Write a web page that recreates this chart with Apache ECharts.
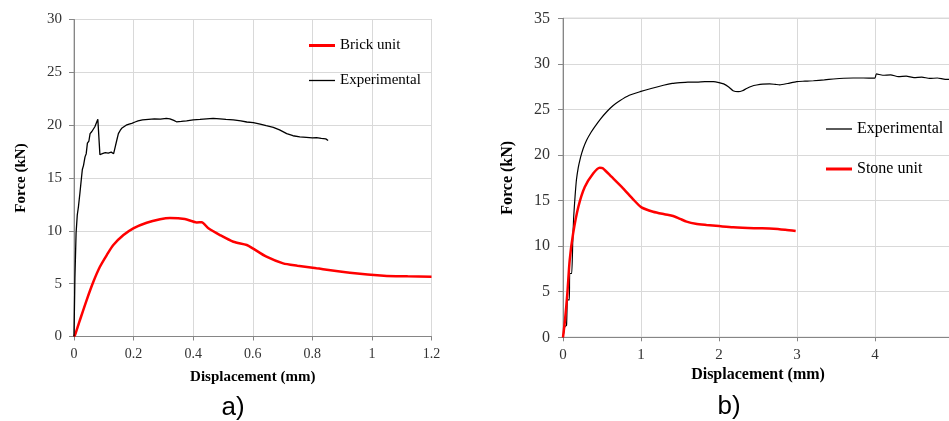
<!DOCTYPE html>
<html><head><meta charset="utf-8">
<script src="https://cdn.jsdelivr.net/npm/echarts@6/dist/echarts.min.js"></script>
<style>html,body{margin:0;padding:0;background:#fff}#c{width:949px;height:421px}</style>
</head><body><div id="c"></div>
<script>
// Chart a) Brick unit
const brickDisp = [0,0.0034,0.02,0.0425,0.065,0.087,0.11,0.132,0.166,0.199,0.244,0.289,0.322,0.372,0.412,0.4285,0.451,0.49,0.535,0.58,0.6,0.646,0.702,0.75,0.814,0.926,1.04,1.12,1.2];
const brickForce = [0,0.14,1.56,3.45,5.18,6.6,7.71,8.66,9.6,10.24,10.77,11.09,11.21,11.12,10.8,10.82,10.24,9.6,8.97,8.66,8.34,7.55,6.92,6.7,6.45,6.04,5.76,5.7,5.66];
const expADisp = [0,0.003,0.007,0.011,0.015,0.02,0.025,0.028,0.032,0.037,0.041,0.045,0.05,0.054,0.06,0.065,0.07,0.075,0.08,0.084,0.087,0.09,0.095,0.1,0.105,0.11,0.115,0.12,0.125,0.13,0.133,0.138,0.143,0.149,0.155,0.16,0.166,0.175,0.185,0.194,0.205,0.215,0.23,0.25,0.27,0.29,0.31,0.322,0.335,0.344,0.36,0.378,0.4,0.423,0.445,0.467,0.49,0.51,0.535,0.56,0.58,0.602,0.625,0.645,0.669,0.69,0.714,0.735,0.758,0.78,0.8,0.814,0.83,0.845,0.853];
const expAForce = [0,5.5,9.8,11.5,12.3,13.6,15.0,15.8,16.2,17.0,17.3,18.3,18.5,19.2,19.4,19.5,19.85,20.2,20.55,20.4,17.2,17.1,17.3,17.2,17.4,17.3,17.35,17.5,17.45,17.6,17.3,17.9,18.5,19.2,19.5,19.7,19.8,20.0,20.1,20.17,20.3,20.4,20.5,20.55,20.6,20.58,20.65,20.6,20.45,20.32,20.35,20.4,20.5,20.55,20.6,20.65,20.6,20.55,20.5,20.4,20.3,20.25,20.1,19.95,19.8,19.55,19.2,19.0,18.9,18.85,18.8,18.83,18.75,18.7,18.55];
// Chart b) Stone unit
const stoneDisp = [0,0.026,0.056,0.086,0.13,0.197,0.279,0.389,0.471,0.51,0.621,0.77,0.899,1.006,1.155,1.3,1.412,1.5,1.584,1.7,1.84,2.0,2.182,2.45,2.7,2.85,2.983];
const stoneForce = [0,1.9,4.83,8.48,11.4,14.33,16.5,18.0,18.61,18.55,17.62,16.35,15.14,14.26,13.78,13.5,13.31,13.0,12.69,12.45,12.32,12.2,12.07,11.97,11.92,11.8,11.66];
const expBDisp = [0,0.02,0.026,0.045,0.056,0.07,0.081,0.086,0.1,0.112,0.125,0.137,0.155,0.172,0.195,0.218,0.24,0.26,0.304,0.36,0.411,0.48,0.561,0.64,0.728,0.85,0.988,1.13,1.288,1.4,1.502,1.6,1.716,1.82,1.93,2.0,2.06,2.12,2.18,2.247,2.3,2.354,2.42,2.483,2.56,2.65,2.72,2.78,2.88,2.996,3.1,3.21,3.35,3.466,3.6,3.72,3.85,3.998,4.018,4.1,4.2,4.3,4.4,4.5,4.6,4.7,4.8,4.9,5.0];
const expBForce = [0,1.1,1.2,1.3,4.1,4.1,4.1,7.0,7.0,7.0,10.5,13.2,15.5,17.26,18.6,19.5,20.2,20.75,21.65,22.5,23.15,23.95,24.75,25.4,25.95,26.55,26.95,27.3,27.65,27.85,27.94,28.0,28.0,28.05,28.05,27.95,27.8,27.5,27.06,26.95,27.05,27.3,27.55,27.68,27.78,27.8,27.75,27.7,27.85,28.05,28.1,28.15,28.25,28.34,28.42,28.45,28.45,28.43,28.9,28.75,28.8,28.6,28.65,28.5,28.55,28.4,28.45,28.3,28.3];
const xTitle = 'Displacement (mm)';
const yTitle = 'Force (kN)';
const panelLabels = ['a)', 'b)'];

const zip = (a, b) => a.map((v, i) => [v, b[i]]);
const SERIF = 'Liberation Serif';

function xAxis(gi, max, interval, fs, gap, margin) {
  return {
    type: 'value', gridIndex: gi, min: 0, max: max, interval: interval,
    name: xTitle, nameLocation: 'middle', nameGap: gap,
    nameTextStyle: {fontFamily: SERIF, fontWeight: 'bold', fontSize: fs, color: '#000'},
    axisLine: {show: true, lineStyle: {color: '#868686', width: 1}},
    axisTick: {show: true, length: 4, lineStyle: {color: '#868686'}},
    axisLabel: {fontFamily: SERIF, fontSize: fs - 1, color: '#333', margin: margin},
    splitLine: {show: true, lineStyle: {color: '#d9d9d9', width: 1}}
  };
}
function yAxis(gi, max, fs, gap, margin) {
  return {
    type: 'value', gridIndex: gi, min: 0, max: max, interval: 5,
    name: yTitle, nameLocation: 'middle', nameGap: gap, nameRotate: 90,
    nameTextStyle: {fontFamily: SERIF, fontWeight: 'bold', fontSize: fs, color: '#000'},
    axisLine: {show: true, lineStyle: {color: '#868686', width: 1}},
    axisTick: {show: true, length: 5, lineStyle: {color: '#868686'}},
    axisLabel: {fontFamily: SERIF, fontSize: fs, color: '#333', margin: margin},
    splitLine: {show: true, lineStyle: {color: '#d9d9d9', width: 1}}
  };
}
function leg(name, left, top, h, fs) {
  return {
    data: [name], left: left, top: top, padding: 0, itemWidth: 26, itemHeight: h,
    icon: 'rect', selectedMode: false,
    textStyle: {fontFamily: SERIF, fontSize: fs, color: '#000'}
  };
}

const chart = echarts.init(document.getElementById('c'), null, {renderer: 'canvas'});
chart.setOption({
  animation: false,
  backgroundColor: '#fff',
  grid: [
    {left: 74, top: 19.5, width: 357.5, height: 317, show: true, borderColor: '#a6a6a6', borderWidth: 1, outerBoundsMode: 'none', containLabel: false},
    {left: 563, top: 18.3, width: 390, height: 319, show: true, borderColor: '#a6a6a6', borderWidth: 1, outerBoundsMode: 'none', containLabel: false}
  ],
  xAxis: [xAxis(0, 1.2, 0.2, 15, 33, 11), xAxis(1, 5, 1, 16, 29, 10)],
  yAxis: [yAxis(0, 30, 15, 45, 12), yAxis(1, 35, 16, 47, 13)],
  legend: [
    leg('Brick unit', 309, 38, 3, 15),
    leg('Experimental', 309, 73, 1.3, 15),
    leg('Experimental', 826, 121, 1.3, 16),
    leg('Stone unit', 826, 161, 3, 16)
  ],
  graphic: [
    {type: 'text', x: 233, y: 408, style: {text: panelLabels[0], font: '26px "Liberation Sans"', fill: '#000', align: 'center', verticalAlign: 'middle'}},
    {type: 'text', x: 729, y: 407, style: {text: panelLabels[1], font: '26px "Liberation Sans"', fill: '#000', align: 'center', verticalAlign: 'middle'}}
  ],
  series: [
    {name: 'Brick unit', type: 'line', xAxisIndex: 0, yAxisIndex: 0, data: zip(brickDisp, brickForce),
     showSymbol: false, symbol: 'none', smooth: 0.25, lineStyle: {color: '#ff0000', width: 2.5}, itemStyle: {color: '#ff0000'}},
    {name: 'Experimental', type: 'line', xAxisIndex: 0, yAxisIndex: 0, data: zip(expADisp, expAForce),
     showSymbol: false, symbol: 'none', lineStyle: {color: '#000', width: 1.3}, itemStyle: {color: '#000'}},
    {name: 'Experimental', type: 'line', xAxisIndex: 1, yAxisIndex: 1, data: zip(expBDisp, expBForce),
     showSymbol: false, symbol: 'none', smooth: 0.2, lineStyle: {color: '#000', width: 1.2}, itemStyle: {color: '#000'}},
    {name: 'Stone unit', type: 'line', xAxisIndex: 1, yAxisIndex: 1, data: zip(stoneDisp, stoneForce),
     showSymbol: false, symbol: 'none', smooth: 0.25, lineStyle: {color: '#ff0000', width: 2.5}, itemStyle: {color: '#ff0000'}}
  ]
});
</script></body></html>
